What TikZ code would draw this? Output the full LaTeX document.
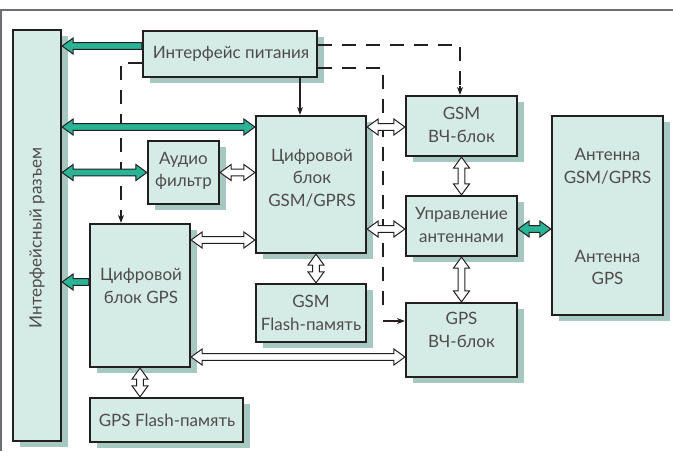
\documentclass[tikz,border=0pt]{standalone}
\usepackage{fontspec}
\setmainfont{Lato}
\usetikzlibrary{shadows,calc,arrows.meta}
\definecolor{boxfill}{HTML}{D5EBE5}
\definecolor{boxshadow}{HTML}{A5C9C1}
\definecolor{tealc}{HTML}{2AB394}
\definecolor{ink}{HTML}{231F20}
\definecolor{framec}{HTML}{6D6E71}
\def\ahl{11pt}\def\ahw{8pt}\def\asw{3.3pt}
% horizontal double-headed fat arrow, #2 left end, #3 right end (y from #2)
\newcommand\fatH[3]{\filldraw[#1] let \p1=#2, \p2=#3 in
 (\x1,\y1) -- (\x1+\ahl,\y1+\ahw) -- (\x1+\ahl,\y1+\asw) -- (\x2-\ahl,\y1+\asw) -- (\x2-\ahl,\y1+\ahw) -- (\x2,\y1)
 -- (\x2-\ahl,\y1-\ahw) -- (\x2-\ahl,\y1-\asw) -- (\x1+\ahl,\y1-\asw) -- (\x1+\ahl,\y1-\ahw) -- cycle;}
% horizontal single-headed fat arrow pointing left: #2 tip (left), #3 tail (right)
\newcommand\fatL[3]{\filldraw[#1] let \p1=#2, \p2=#3 in
 (\x1,\y1) -- (\x1+\ahl,\y1+\ahw) -- (\x1+\ahl,\y1+\asw) -- (\x2,\y1+\asw) -- (\x2,\y1-\asw)
 -- (\x1+\ahl,\y1-\asw) -- (\x1+\ahl,\y1-\ahw) -- cycle;}
% vertical double-headed fat arrow: #2 upper end, #3 lower end (x from #2)
\newcommand\fatV[3]{\filldraw[#1] let \p1=#2, \p2=#3 in
 (\x1,\y1) -- (\x1+\ahw,\y1-\ahl) -- (\x1+\asw,\y1-\ahl) -- (\x1+\asw,\y2+\ahl) -- (\x1+\ahw,\y2+\ahl) -- (\x1,\y2)
 -- (\x1-\ahw,\y2+\ahl) -- (\x1-\asw,\y2+\ahl) -- (\x1-\asw,\y1-\ahl) -- (\x1-\ahw,\y1-\ahl) -- cycle;}
\begin{document}
\begin{tikzpicture}[x=1pt,y=-1pt,
 box/.style={draw=ink, line width=2.2pt, fill=boxfill, inner sep=0pt,
   drop shadow={shadow xshift=7pt, shadow yshift=-6pt, fill=boxshadow, opacity=1}},
 txt/.style={align=center, inner sep=0pt, font=\fontsize{17}{22.5}\selectfont, text=ink!80},
 whitearrow/.style={draw=ink, fill=white, line width=1pt},
 tealarrow/.style={draw=ink, fill=tealc, line width=1pt},
 dashline/.style={draw=ink, line width=1.1pt, dash pattern=on 14pt off 10pt},
 thinarrow/.style={-{Stealth[length=8pt,width=6pt]}, draw=ink, line width=1.1pt}]
\useasboundingbox (0,0) rectangle (673,451);
\draw[framec, line width=1.5pt] (0,10) -- (673,10);
\draw[framec, line width=1.5pt] (1,10) -- (1,451);

% boxes
\node[box, minimum width=48, minimum height=411] (conn) at (37,235.5) {};
\node[box, minimum width=174, minimum height=46] (pwr) at (230,54) {};
\node[box, minimum width=110, minimum height=137] (gsmd) at (311,184.5) {};
\node[box, minimum width=71, minimum height=63] (audio) at (183.5,172.5) {};
\node[box, minimum width=111, minimum height=60] (gsmrf) at (461.5,126) {};
\node[box, minimum width=111, minimum height=60] (ctl) at (461.5,226) {};
\node[box, minimum width=111, minimum height=199] (ant) at (607.5,215.5) {};
\node[box, minimum width=111, minimum height=74] (gpsrf) at (461.5,340) {};
\node[box, minimum width=100, minimum height=143] (gpsd) at (140,295.5) {};
\node[box, minimum width=110, minimum height=58] (gsmfl) at (311,313) {};
\node[box, minimum width=153, minimum height=44] (gpsfl) at (166.5,420) {};

% texts
\node[txt, rotate=90] (connT) at (37,238) {Интерфейсный разъем};
\node[txt] (pwrT) at (231,54) {Интерфейс питания};
\node[txt] (gsmdT) at (312,178) {Цифровой\\блок\\GSM/GPRS};
\node[txt] (audioT) at (183.5,171) {Аудио\\фильтр};
\node[txt] (gsmrfT) at (461.5,125) {GSM\\ВЧ-блок};
\node[txt] (ctlT) at (461.5,225) {Управление\\антеннами};
\node[txt] (antT1) at (607.5,166.5) {Антенна\\GSM/GPRS};
\node[txt] (antT2) at (607.5,267.5) {Антенна\\GPS};
\node[txt] (gpsrfT) at (461.5,330) {GPS\\ВЧ-блок};
\node[txt] (gpsdT) at (141,286) {Цифровой\\блок GPS};
\node[txt] (gsmflT) at (311,313) {GSM\\Flash-память};
\node[txt] (gpsflT) at (167,420) {GPS Flash-память};

% dashed control lines
\draw[dashline] (pwr.east |- 0,45) -| (460,88);
\draw[thinarrow] (460,86) -- (gsmrf.north -| 460,0);
\draw[dashline] (pwr.east |- 0,68) -- (383,68) -- (383,308);
\draw[thinarrow] (383,321) -- (gpsrf.west |- 0,321);
\draw[dashline] (pwr.west |- 0,63) -| (121,212);
\draw[thinarrow] (121,210) -- (gpsd.north -| 121,0);
\draw[thinarrow] (pwr.south -| 300,0) -- (gsmd.north -| 300,0);

% fat arrows
\fatL{tealarrow}{(conn.east |- 0,46)}{(pwr.west |- 0,46)}
\fatH{tealarrow}{(conn.east |- 0,127)}{(gsmd.west |- 0,127)}
\fatH{tealarrow}{(conn.east |- audio.west)}{(audio.west)}
\fatH{whitearrow}{(audio.east)}{(gsmd.west |- audio.east)}
\fatH{whitearrow}{(gsmd.east |- 0,127)}{(gsmrf.west |- 0,127)}
\fatV{whitearrow}{(gsmrf.south)}{(ctl.north)}
\fatH{whitearrow}{(gsmd.east |- 0,229)}{(ctl.west |- 0,229)}
\fatH{tealarrow}{(ctl.east |- 0,229)}{(ant.west |- 0,229)}
\fatV{whitearrow}{(ctl.south)}{(gpsrf.north)}
\fatH{whitearrow}{(gpsd.east |- 0,240)}{(gsmd.west |- 0,240)}
\fatV{whitearrow}{(gsmd.south -| 316,0)}{(gsmfl.north -| 316,0)}
\fatH{whitearrow}{(gpsd.east |- 0,357)}{(gpsrf.west |- 0,357)}
\fatV{whitearrow}{(gpsd.south)}{(gpsfl.north -| gpsd.south)}
\fatL{tealarrow}{(conn.east |- 0,282)}{(gpsd.west |- 0,282)}
\end{tikzpicture}
\end{document}
